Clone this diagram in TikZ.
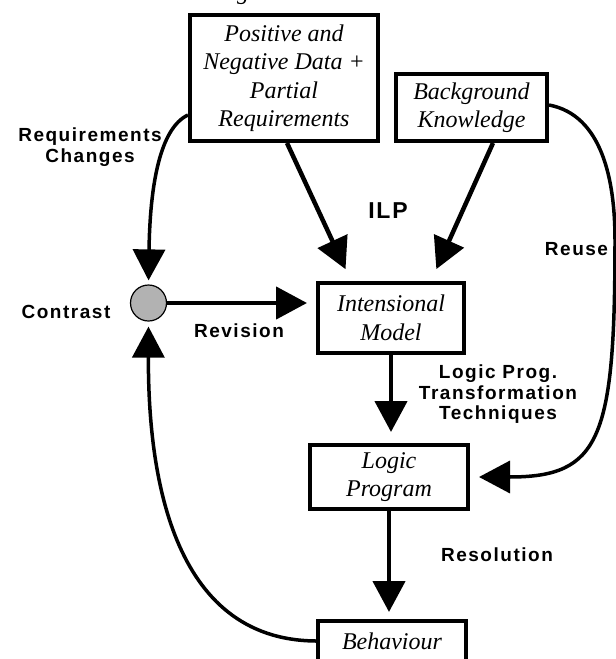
\documentclass[tikz,border=0pt]{standalone}
\usepackage{fontspec}
\setmainfont{Liberation Serif}
\newfontfamily\lblfont[LetterSpace=8]{Liberation Sans}
\usetikzlibrary{arrows.meta}
\begin{document}
\begin{tikzpicture}[x=1pt,y=-1pt,
  box/.style={draw, line width=4pt, rectangle, align=center, inner sep=0pt,
    font=\fontsize{24}{28.5}\selectfont\itshape},
  lbl/.style={align=center, inner sep=0pt,
    font=\lblfont\bfseries\fontsize{19}{20.5}\selectfont},
  arr/.style={line width=4.5pt, -{Triangle[length=31pt,width=32pt]}},
  carr/.style={line width=3.5pt, -{Triangle[length=31pt,width=32pt]}},
]
\useasboundingbox (0,0) rectangle (616,659);

% tail of a heading running off the top edge
\node[font=\fontsize{24}{28}\selectfont\itshape, anchor=base, inner sep=0pt] (capg) at (243,-1) {g};

% boxes
\node[box, minimum width=188pt, minimum height=126pt] (pos) at (284,78)
  {Positive and\\Negative Data +\\Partial\\Requirements};
\node[box, minimum width=151pt, minimum height=67pt] (bg) at (471.5,107.5)
  {Background\\Knowledge};
\node[box, minimum width=146pt, minimum height=70pt] (im) at (391,318)
  {Intensional\\Model};
\node[box, minimum width=158pt, minimum height=64pt] (lp) at (389,477)
  {Logic\\Program};
\node[box, minimum width=148pt, minimum height=40pt] (beh) at (392,641)
  {Behaviour};

% contrast point
\node[circle, draw, line width=1.2pt, fill=black!30, minimum size=36pt, inner sep=0pt] (con) at (148.5,303) {};

% labels
\node[lbl] (l-req) at (90,147) {Requirements\\Changes};
\node[lbl, anchor=base, font=\lblfont\bfseries\fontsize{23}{26}\selectfont] (l-ilp) at (388,218) {ILP};
\node[lbl, anchor=base] (l-reuse) at (576.5,255) {Reuse};
\node[lbl, anchor=base] (l-con) at (66,318) {Contrast};
\node[lbl, anchor=base] (l-rev) at (239,337) {Revision};
\node[lbl] (l-lpt) at (498,394.5) {Logic Prog.\\Transformation\\Techniques};
\node[lbl, anchor=base] (l-res) at (497,561) {Resolution};

% straight connectors
\draw[arr, shorten >=13pt] ([xshift=3pt]pos.south) -- ([xshift=-40pt]im.north);
\draw[arr, shorten >=13pt] ([xshift=21.5pt]bg.south) -- ([xshift=40pt]im.north);
\draw[arr, shorten >=9pt] (con.east) -- (con.east -| im.west);
\draw[arr, shorten >=11pt] (im.south) -- (im.south |- lp.north);
\draw[arr, shorten >=7pt] (lp.south) -- (lp.south |- beh.north);

% curved connectors
\draw[carr, shorten >=4pt] ([yshift=-37pt]pos.west)
  .. controls (160,128) and (150,185) .. (con.north);
\draw[carr, shorten >=5pt] (beh.west)
  .. controls (170,640) and (148,470) .. (con.south);
\draw[carr, shorten >=9pt] ([yshift=2.5pt]bg.east)
  .. controls (602,115) and (615,180) .. (615,240)
  .. controls (615,440) and (600,477) .. (lp.east);
\end{tikzpicture}
\end{document}
